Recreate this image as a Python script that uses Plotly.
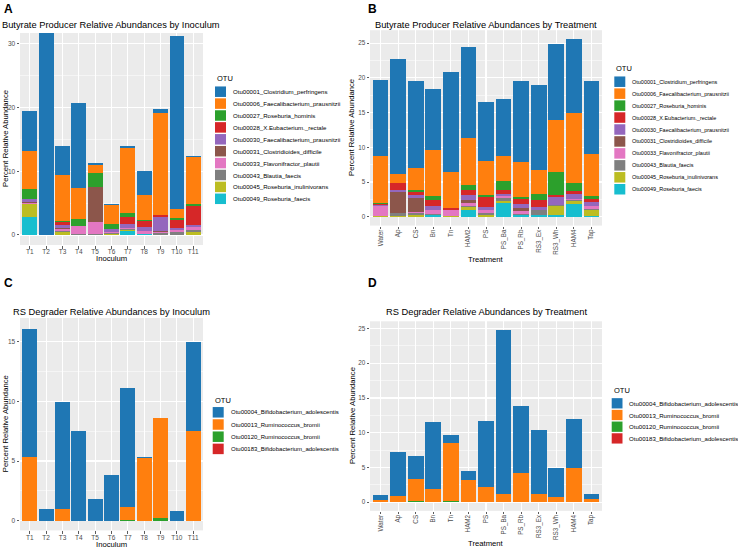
import plotly.graph_objects as go

W, H = 738, 549

# ---------------- data ----------------
otu_butyrate = [
    "Otu00001_Clostridium_perfringens",
    "Otu00006_Faecalibacterium_prausnitzii",
    "Otu00027_Roseburia_hominis",
    "Otu00028_X.Eubacterium._rectale",
    "Otu00030_Faecalibacterium_prausnitzii",
    "Otu00031_Clostridioides_difficile",
    "Otu00033_Flavonifractor_plautii",
    "Otu00043_Blautia_faecis",
    "Otu00045_Roseburia_inulinivorans",
    "Otu00049_Roseburia_faecis",
]
otu_rs = [
    "Otu00004_Bifidobacterium_adolescentis",
    "Otu00013_Ruminococcus_bromii",
    "Otu00120_Ruminococcus_bromii",
    "Otu00183_Bifidobacterium_adolescentis",
]
colors_butyrate = ["#1f77b4", "#ff7f0e", "#2ca02c", "#d62728", "#9467bd",
                   "#8c564b", "#e377c2", "#7f7f7f", "#bcbd22", "#17becf"]
colors_rs = ["#1f77b4", "#ff7f0e", "#2ca02c", "#d62728"]

inoculum = ["T1", "T2", "T3", "T4", "T5", "T6", "T7", "T8", "T9", "T10", "T11"]
treatment = ["Water", "Ap", "CS", "Bn", "Tn", "HAM2", "PS", "PS_Ba", "PS_Rb",
             "RS3_Ex", "RS3_Wh", "HAM4", "Tap"]

# Panel A: butyrate producers by inoculum (T1..T11)
a_otu00001 = [6.3, 31.7, 4.6, 13.4, 0.3, 0.1, 0.3, 3.9, 0.5, 27.1, 0.2]
a_otu00006 = [6.0, 0.0, 7.2, 4.8, 1.2, 2.9, 10.3, 3.8, 16.0, 1.5, 7.3]
a_otu00027 = [1.5, 0.0, 0.1, 1.1, 2.3, 0.8, 0.5, 0.2, 0.0, 0.2, 0.3]
a_otu00028 = [0.1, 0.0, 0.5, 0.0, 0.0, 0.0, 1.1, 1.0, 0.4, 1.3, 3.0]
a_otu00030 = [0.5, 0.0, 0.5, 0.0, 0.0, 0.5, 0.7, 0.6, 2.2, 0.3, 0.3]
a_otu00031 = [0.1, 0.0, 0.1, 0.0, 5.5, 0.0, 0.0, 0.0, 0.1, 0.0, 0.0]
a_otu00033 = [0.1, 0.0, 0.3, 1.2, 1.8, 0.2, 0.1, 0.4, 0.2, 0.3, 0.5]
a_otu00043 = [0.0, 0.0, 0.3, 0.2, 0.2, 0.1, 0.2, 0.1, 0.3, 0.5, 0.3]
a_otu00045 = [2.1, 0.0, 0.4, 0.0, 0.0, 0.2, 0.1, 0.0, 0.0, 0.0, 0.5]
a_otu00049 = [2.8, 0.0, 0.0, 0.0, 0.0, 0.0, 0.7, 0.1, 0.0, 0.0, 0.0]

# Panel B: butyrate producers by treatment
b_otu00001 = [10.9, 16.6, 12.5, 8.8, 14.5, 13.2, 8.6, 8.3, 11.6, 12.2, 11.0, 10.7, 10.5]
b_otu00006 = [6.8, 1.2, 3.2, 6.6, 5.1, 6.7, 4.9, 3.6, 5.1, 3.5, 7.5, 10.1, 6.1]
b_otu00027 = [0.2, 0.1, 0.2, 0.6, 0.1, 0.8, 0.2, 1.2, 0.3, 0.9, 3.2, 1.1, 0.4]
b_otu00028 = [0.1, 0.9, 0.4, 0.9, 0.2, 0.7, 1.5, 0.6, 0.7, 1.0, 0.3, 0.4, 0.5]
b_otu00030 = [0.2, 0.3, 0.5, 0.6, 0.1, 0.7, 0.5, 0.3, 0.5, 0.4, 1.2, 0.7, 0.5]
b_otu00031 = [0.0, 3.0, 2.0, 0.0, 0.0, 0.4, 0.0, 0.0, 0.5, 0.0, 0.0, 0.0, 0.0]
b_otu00033 = [1.4, 0.0, 0.2, 0.5, 0.8, 0.5, 0.4, 0.3, 0.4, 0.1, 0.0, 0.2, 0.5]
b_otu00043 = [0.0, 0.5, 0.3, 0.1, 0.0, 0.1, 0.2, 0.5, 0.2, 0.7, 0.2, 0.2, 0.2]
b_otu00045 = [0.1, 0.1, 0.2, 0.1, 0.1, 0.5, 0.3, 0.2, 0.0, 0.0, 1.2, 0.4, 0.8]
b_otu00049 = [0.0, 0.0, 0.0, 0.2, 0.0, 0.9, 0.0, 2.0, 0.2, 0.2, 0.3, 1.8, 0.1]

# Panel C: RS degraders by inoculum
c_otu00004 = [10.8, 1.0, 9.0, 7.5, 1.8, 3.85, 9.95, 0.12, 0.0, 0.8, 7.5]
c_otu00013 = [5.3, 0.0, 0.95, 0.0, 0.0, 0.0, 1.05, 5.25, 8.35, 0.0, 7.5]
c_otu00120 = [0.0, 0.0, 0.0, 0.0, 0.0, 0.0, 0.1, 0.0, 0.25, 0.0, 0.0]
c_otu00183 = [0.0] * 11

# Panel D: RS degraders by treatment
d_otu00004 = [0.7, 6.35, 3.35, 9.65, 1.1, 1.3, 9.55, 23.65, 9.65, 9.25, 4.15, 7.05, 0.8]
d_otu00013 = [0.35, 0.95, 3.15, 1.9, 8.4, 3.2, 2.1, 1.1, 4.25, 1.2, 0.75, 4.85, 0.4]
d_otu00120 = [0.0, 0.0, 0.15, 0.05, 0.15, 0.0, 0.1, 0.0, 0.0, 0.0, 0.0, 0.05, 0.0]
d_otu00183 = [0.0, 0.0, 0.0, 0.0, 0.0, 0.0, 0.0, 0.05, 0.0, 0.0, 0.0, 0.0, 0.0]

panel_a = [a_otu00001, a_otu00006, a_otu00027, a_otu00028, a_otu00030,
           a_otu00031, a_otu00033, a_otu00043, a_otu00045, a_otu00049]
panel_b = [b_otu00001, b_otu00006, b_otu00027, b_otu00028, b_otu00030,
           b_otu00031, b_otu00033, b_otu00043, b_otu00045, b_otu00049]
panel_c = [c_otu00004, c_otu00013, c_otu00120, c_otu00183]
panel_d = [d_otu00004, d_otu00013, d_otu00120, d_otu00183]

# ---------------- layout helpers ----------------
FONT = "Liberation Sans, Arial, sans-serif"
BG = "#EBEBEB"


def fx(x):
    return x / W


def fy(y):
    return 1 - y / H


fig = go.Figure()

panels = [
    dict(letter="A", letter_xy=(2, 9.5), title="Butyrate Producer Relative Abundances by Inoculum",
         title_y=25, cats=inoculum, series=panel_a, names=otu_butyrate, colors=colors_butyrate,
         xa="x", ya="y", box=(20, 33, 203, 245), yrange=[-1.57, 31.69], dtick=10,
         xtitle="Inoculum", xt_y=258.5, ytitle_x=5, rot=False, tfs=6.5,
         leg=dict(tx=215, ty=78.5, r0=91.7, dy=11.9, kx=215, kw=11, kh=10.5, txt=230.5, fs=6.1)),
    dict(letter="B", letter_xy=(366, 9.5), title="Butyrate Producer Relative Abundances by Treatment",
         title_y=25, cats=treatment, series=panel_b, names=otu_butyrate, colors=colors_butyrate,
         xa="x2", ya="y2", box=(370, 30.2, 602, 225.6), yrange=[-1.28, 26.88], dtick=5,
         xtitle="Treatment", xt_y=259, ytitle_x=352, rot=True, tfs=6.3,
         leg=dict(tx=614, ty=68, r0=81.7, dy=11.95, kx=614.3, kw=11, kh=10.5, txt=630, fs=5.5)),
    dict(letter="C", letter_xy=(2, 282.5), title="RS Degrader Relative Abundances by Inoculum",
         title_y=311.7, cats=inoculum, series=panel_c, names=otu_rs, colors=colors_rs,
         xa="x3", ya="y3", box=(20, 318, 203, 530.4), yrange=[-0.81, 16.98], dtick=5,
         xtitle="Inoculum", xt_y=544.5, ytitle_x=5, rot=False, tfs=6.5,
         leg=dict(tx=212.7, ty=400, r0=412.3, dy=12.2, kx=212.7, kw=11, kh=10.5, txt=229, fs=6.0)),
    dict(letter="D", letter_xy=(366, 282.5), title="RS Degrader Relative Abundances by Treatment",
         title_y=311.7, cats=treatment, series=panel_d, names=otu_rs, colors=colors_rs,
         xa="x4", ya="y4", box=(370, 321.3, 602, 510.9), yrange=[-1.24, 26.04], dtick=5,
         xtitle="Treatment", xt_y=543.5, ytitle_x=352, rot=True, tfs=6.3,
         leg=dict(tx=611.7, ty=390, r0=403.3, dy=11.7, kx=611.7, kw=10.8, kh=10.3, txt=627.3, fs=6.1)),
]

annotations = []
shapes = []
layout_axes = {}

for i, p in enumerate(panels):
    # stacked bars: last OTU at the bottom, first OTU on top (ggplot order)
    for name, vals, col in reversed(list(zip(p["names"], p["series"], p["colors"]))):
        fig.add_trace(go.Bar(
            x=p["cats"], y=vals, name=name, marker_color=col,
            marker_line_width=0, xaxis=p["xa"], yaxis=p["ya"],
            showlegend=False, width=0.9, hoverinfo="skip",
        ))

    x0, y0, x1, y1 = p["box"]
    sfx = "" if i == 0 else str(i + 1)
    n = len(p["cats"])
    layout_axes["xaxis" + sfx] = dict(
        domain=[fx(x0), fx(x1)], anchor=p["ya"], type="category",
        range=[-0.6, n - 0.4], showgrid=True, gridcolor="white", gridwidth=1.1,
        ticks="outside", ticklen=2.5, tickwidth=0.8, tickcolor="#333333",
        tickfont=dict(size=p["tfs"], color="#4D4D4D", family=FONT),
        tickangle=-90 if p["rot"] else 0, zeroline=False, showline=False,
        ticklabelstandoff=-2,
        fixedrange=True,
    )
    layout_axes["yaxis" + sfx] = dict(
        domain=[fy(y1), fy(y0)], anchor=p["xa"], range=p["yrange"],
        dtick=p["dtick"], tick0=0, showgrid=True, gridcolor="white", gridwidth=1.1,
        minor=dict(dtick=p["dtick"] / 2, tick0=0, showgrid=True,
                   gridcolor="white", gridwidth=0.5),
        ticks="outside", ticklen=2.5, tickwidth=0.8, tickcolor="#333333",
        tickfont=dict(size=p["tfs"], color="#4D4D4D", family=FONT),
        zeroline=False, showline=False, fixedrange=True,
    )

    cx = (x0 + x1) / 2
    # panel letter
    lx, ly = p["letter_xy"]
    annotations.append(dict(text="<b>%s</b>" % p["letter"], x=fx(lx), y=fy(ly),
                            xref="paper", yref="paper", xanchor="left", yanchor="middle",
                            showarrow=False, font=dict(size=12, color="black", family=FONT)))
    # plot title
    annotations.append(dict(text=p["title"], x=fx(cx), y=fy(p["title_y"]),
                            xref="paper", yref="paper", xanchor="center", yanchor="middle",
                            showarrow=False, font=dict(size=9.3, color="black", family=FONT)))
    # axis titles
    annotations.append(dict(text=p["xtitle"], x=fx(cx), y=fy(p["xt_y"]),
                            xref="paper", yref="paper", xanchor="center", yanchor="middle",
                            showarrow=False, font=dict(size=7.7, color="black", family=FONT)))
    annotations.append(dict(text="Percent Relative Abundance", x=fx(p["ytitle_x"]),
                            y=fy((y0 + y1) / 2), xref="paper", yref="paper",
                            xanchor="center", yanchor="middle", textangle=-90,
                            showarrow=False, font=dict(size=7.7, color="black", family=FONT)))

    # legend (ggplot-style, compact)
    lg = p["leg"]
    annotations.append(dict(text="OTU", x=fx(lg["tx"]), y=fy(lg["ty"]), xref="paper",
                            yref="paper", xanchor="left", yanchor="middle", showarrow=False,
                            font=dict(size=7.5, color="black", family=FONT)))
    for k, (name, col) in enumerate(zip(p["names"], p["colors"])):
        ry = lg["r0"] + k * lg["dy"]
        shapes.append(dict(type="rect", xref="paper", yref="paper",
                           x0=fx(lg["kx"]), x1=fx(lg["kx"] + lg["kw"]),
                           y0=fy(ry + lg["kh"] / 2), y1=fy(ry - lg["kh"] / 2),
                           fillcolor=col, line=dict(width=0)))
        annotations.append(dict(text=name, x=fx(lg["txt"]), y=fy(ry), xref="paper",
                                yref="paper", xanchor="left", yanchor="middle",
                                showarrow=False,
                                font=dict(size=lg["fs"], color="black", family=FONT)))

fig.update_layout(
    width=W, height=H, margin=dict(l=0, r=0, t=0, b=0),
    barmode="stack", bargap=0.1, hovermode=False,
    paper_bgcolor="white", plot_bgcolor=BG,
    font=dict(family=FONT, color="black"),
    showlegend=False, annotations=annotations, shapes=shapes,
    **layout_axes,
)

fig.write_html("out.html", config={"displayModeBar": False, "staticPlot": True},
               post_script="document.body.style.margin='0';")
